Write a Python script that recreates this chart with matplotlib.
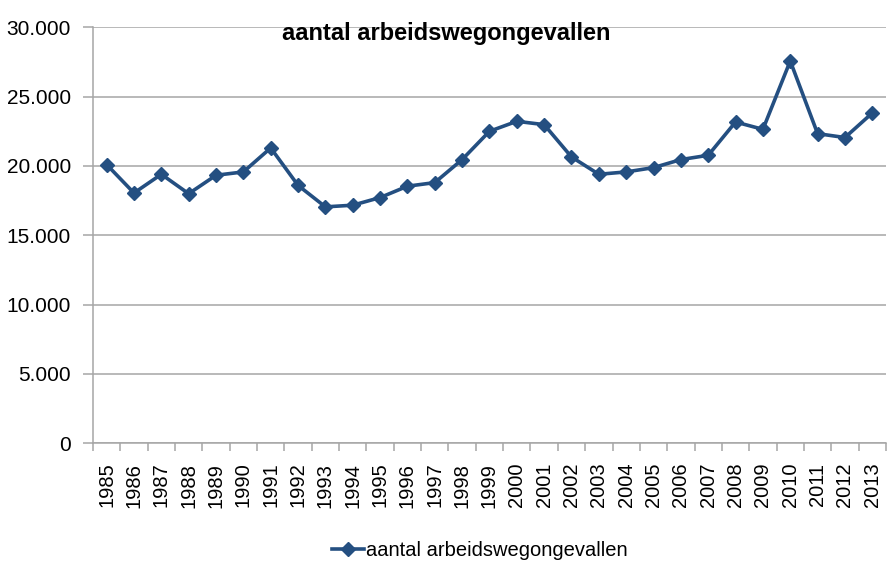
import matplotlib
matplotlib.use("Agg")
import matplotlib.pyplot as plt
from matplotlib.ticker import FuncFormatter, FixedLocator

plt.rcParams['font.family'] = ['Liberation Sans', 'DejaVu Sans']

years = list(range(1985, 2014))
ongevallen = [20100, 18050, 19400, 18000, 19330, 19570, 21300,
              18600, 17050, 17170, 17720, 18540, 18800, 20460,
              22500, 23220, 22980, 20650, 19400, 19570, 19880,
              20460, 20770, 23170, 22640, 27570, 22330, 22050, 23820]
series_label = "aantal arbeidswegongevallen"
title_text = "aantal arbeidswegongevallen"

line_color = "#244F81"
grid_color = "#A6A6A6"

fig = plt.figure(figsize=(8.88, 5.65), dpi=100)
ax = fig.add_axes([0.1047, 0.2154, 0.893, 0.7363])

x = list(range(len(years)))
ax.plot(x, ongevallen, color=line_color, linewidth=2.6, marker='D',
        markersize=7.5, markerfacecolor=line_color, markeredgecolor=line_color,
        label=series_label, zorder=3)

ax.set_xlim(-0.5, len(years) - 0.5)
ax.set_ylim(0, 30000)
ax.set_yticks(range(0, 30001, 5000))
ax.yaxis.set_major_formatter(FuncFormatter(lambda v, p: f"{int(v):,}".replace(",", ".")))
ax.yaxis.grid(True, color=grid_color, linewidth=1.1)
ax.set_axisbelow(True)

ax.set_xticks(x)
ax.set_xticklabels([str(y) for y in years], rotation=90)
ax.xaxis.set_minor_locator(FixedLocator([i - 0.5 for i in range(len(years) + 1)]))
ax.tick_params(axis='x', which='major', length=0, pad=14, labelsize=14.5)
ax.tick_params(axis='x', which='minor', length=6, color=grid_color, width=1.1)
ax.tick_params(axis='y', which='major', length=7, color=grid_color, width=1.1,
               labelsize=15, pad=9)

for side in ('top', 'right'):
    ax.spines[side].set_visible(False)
for side in ('left', 'bottom'):
    ax.spines[side].set_color(grid_color)
    ax.spines[side].set_linewidth(1.1)

ax.text(0.446, 0.986, title_text, transform=ax.transAxes, ha='center',
        va='center', fontsize=17, fontweight='bold')

fig.legend(loc='center', bbox_to_anchor=(0.54, 0.025), frameon=False,
           fontsize=14.5, handlelength=1.6, handletextpad=0.1)

fig.savefig("out.png", dpi=100)
